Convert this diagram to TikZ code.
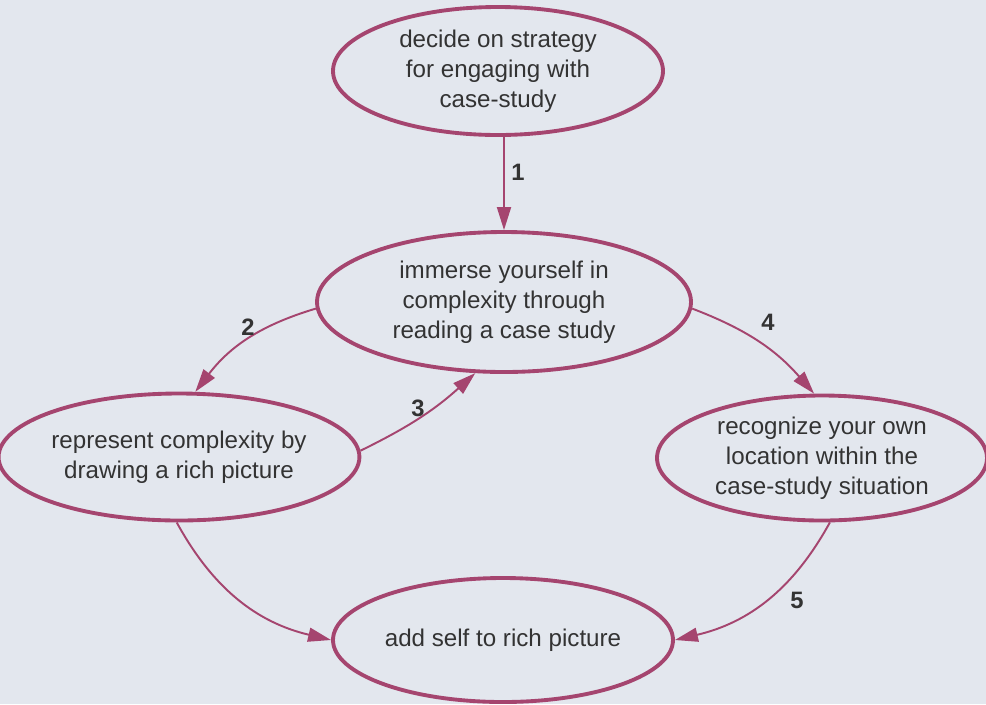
\documentclass[tikz,border=0pt]{standalone}
\usepackage{fontspec}
\setmainfont{Liberation Sans}
\usetikzlibrary{shapes.geometric, arrows.meta}
\definecolor{pagegrey}{HTML}{E3E7EE}
\definecolor{plum}{HTML}{A5456F}
\definecolor{inkgrey}{HTML}{333333}

\begin{document}
\begin{tikzpicture}[
  stage/.style={ellipse, draw=plum, line width=2.2pt, inner sep=0pt,
                align=center, text=inkgrey, font=\fontsize{13.75}{17}\selectfont},
  flow/.style={draw=plum, line width=1.1pt,
               -{Triangle[length=0.46cm, width=0.28cm]}},
  stepnum/.style={font=\bfseries\fontsize{13.5}{16}\selectfont, text=inkgrey}
]
\fill[pagegrey] (0,0) rectangle (19.72,-14.08);
\useasboundingbox (0,0) rectangle (19.72,-14.08);

% the five stages
\node[stage, minimum width=6.60cm, minimum height=2.56cm] (decide) at (9.96,-1.42)
      {decide on strategy\\for engaging with\\case-study};
\node[stage, minimum width=7.48cm, minimum height=2.80cm] (immerse) at (10.08,-6.04)
      {immerse yourself in\\complexity through\\reading a case study};
\node[stage, minimum width=6.84cm, minimum height=2.54cm] (represent) at (3.58,-9.14)
      {represent complexity by\\drawing a rich picture};
\node[stage, minimum width=6.60cm, minimum height=2.50cm] (recognize) at (16.44,-9.16)
      {recognize your own\\location within the\\case-study situation};
\node[stage, minimum width=6.80cm, minimum height=2.48cm] (addself) at (10.06,-12.80)
      {add self to rich picture};

% connectors
\draw[flow] (decide.south -| immerse.north) -- (immerse.north);
\draw[flow] (immerse.182) to[bend right=18] (represent.76);
\draw[flow] (represent.2) to[bend right=8] (immerse.248);
\draw[flow] (immerse.358) to[bend left=14] (recognize.97);
\draw[flow] (recognize.277) to[bend left=24] (addself.east);
\draw[flow] (represent.268) to[bend right=24] (addself.west);

% step numbers
\node[stepnum] (n1) at (10.36,-3.44) {1};
\node[stepnum] (n2) at (4.96,-6.54) {2};
\node[stepnum] (n3) at (8.36,-8.16) {3};
\node[stepnum] (n4) at (15.36,-6.44) {4};
\node[stepnum] (n5) at (15.94,-12.00) {5};
\end{tikzpicture}
\end{document}
